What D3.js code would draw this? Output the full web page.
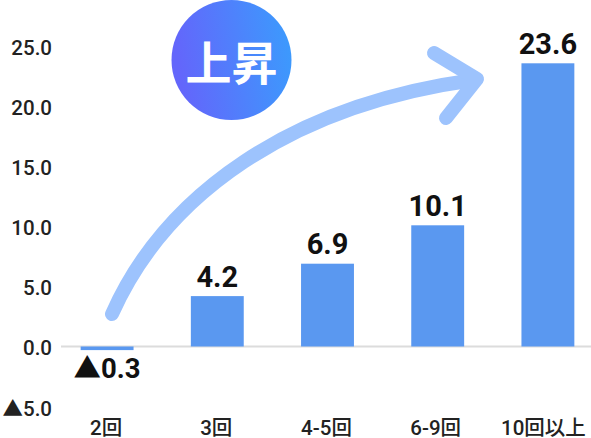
<!DOCTYPE html>
<html><head><meta charset="utf-8">
<script src="https://cdn.jsdelivr.net/npm/d3@7"></script>
<style>
html,body{margin:0;padding:0;background:#fff}
svg{display:block}
text{font-family:Roboto,"Noto Sans CJK JP",sans-serif;fill:#111}
</style></head><body>
<svg id="c" width="591" height="438"></svg>
<script>
const categories = ["2回","3回","4-5回","6-9回","10回以上"];
const values = [-0.3,4.2,6.9,10.1,23.6];
const valueLabels = ["▲0.3","4.2","6.9","10.1","23.6"];
const yTicks = [25,20,15,10,5,0,-5];
const yTickLabels = ["25.0","20.0","15.0","10.0","5.0","0.0","▲5.0"];
const badge = "上昇";

const svg = d3.select("#c");
const y = d3.scaleLinear().domain([-5,25]).range([406.5,46.5]);
const x = d3.scaleBand().domain(categories).range([52,603]).paddingInner(0.52).paddingOuter(0.26);

const defs = svg.append("defs");
const g = defs.append("linearGradient").attr("id","grad").attr("x1","0%").attr("x2","100%").attr("y1","15%").attr("y2","0%");
g.append("stop").attr("offset","0%").attr("stop-color","#6366fb");
g.append("stop").attr("offset","100%").attr("stop-color","#3a9dfd");

svg.append("line").attr("x1",61).attr("x2",591).attr("y1",y(0)).attr("y2",y(0)).attr("stroke","#dcdcdc").attr("stroke-width",2);

svg.selectAll("rect.bar").data(values).join("rect").attr("class","bar")
  .attr("x",(d,i)=>x(categories[i])).attr("width",x.bandwidth())
  .attr("y",d=>y(Math.max(d,0))).attr("height",d=>Math.abs(y(d)-y(0)))
  .attr("fill","#5a98f0");

svg.selectAll("text.yt").data(yTicks).join("text").attr("class","yt")
  .attr("x",52).attr("y",d=>y(d)+ (d<0?9.5:8)).attr("text-anchor","end")
  .attr("font-size",20.5).style("font-weight",500).style("fill","#222")
  .text((d,i)=>yTickLabels[i]);

// the longest label sits left of its bar centre, inside the right edge
svg.selectAll("text.xt").data(categories).join("text").attr("class","xt")
  .attr("x",(d,i)=>x(d)+x.bandwidth()/2-[1,1,1,2,4.5][i]).attr("y",434.5).attr("text-anchor","middle")
  .attr("font-size",20.5).style("font-weight",500).style("fill","#222")
  .text(d=>d);

svg.selectAll("text.vl").data(values).join("text").attr("class","vl")
  .attr("x",(d,i)=>x(categories[i])+x.bandwidth()/2)
  .attr("y",d=>d<0?y(d)+28:y(d)-9.5).attr("text-anchor","middle")
  .attr("font-size",d=>d<0?27.5:29).style("font-weight",700).style("fill","#111")
  .text((d,i)=>valueLabels[i]);

const ar = svg.append("g").attr("fill","none").attr("stroke","#9dc3fd").attr("stroke-width",14).attr("stroke-linecap","round").attr("stroke-linejoin","round");
ar.append("path").attr("d","M112,314 C165,195 290,105 474,80");
ar.append("path").attr("d","M434,53 L477,79 L446,118");

svg.append("circle").attr("cx",231.5).attr("cy",60).attr("r",60).attr("fill","url(#grad)");
svg.append("text").attr("x",231.5).attr("y",80).attr("text-anchor","middle")
  .attr("font-size",46).style("font-weight",700).style("fill","#fff").text(badge);
</script>
</body></html>
